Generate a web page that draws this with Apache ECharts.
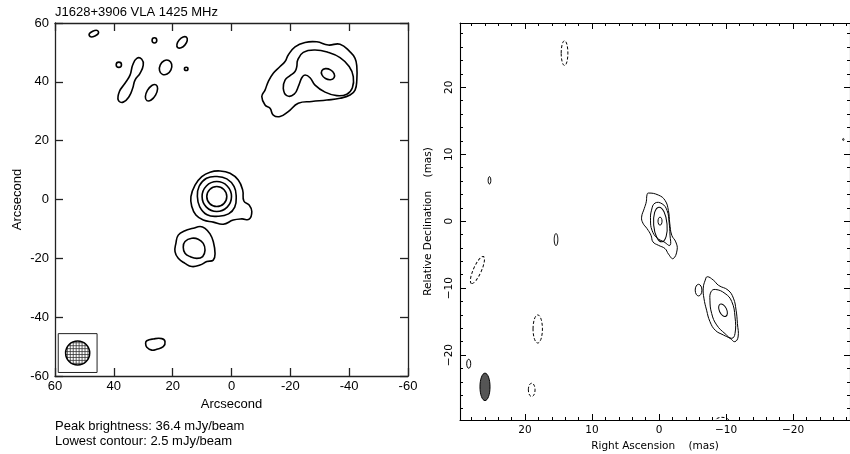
<!DOCTYPE html>
<html><head><meta charset="utf-8">
<script src="https://cdn.jsdelivr.net/npm/echarts@6/dist/echarts.min.js"></script>
<style>html,body{margin:0;padding:0;background:#fff}#c{width:850px;height:454px}</style>
</head><body><div id="c"></div>
<script>
// ---------- tick values / labels ----------
const leftTickValues = [-60, -40, -20, 0, 20, 40, 60];
const leftTickLabels = ['-60', '-40', '-20', '0', '20', '40', '60'];
const rightMajorTicks = [-20, -10, 0, 10, 20];
const rightTickLabels = ['\u221220', '\u221210', '0', '10', '20'];
const rightMinorTicks = [-28, -26, -24, -22, -20, -18, -16, -14, -12, -10, -8, -6, -4, -2, 0, 2, 4, 6, 8, 10, 12, 14, 16, 18, 20, 22, 24, 26, 28];

// ---------- left panel (VLA, arcsec) contours ----------
const leftCoreOuter = [[12.4,4.9],[10.1,7.8],[7.3,9.3],[3.9,9.7],[0.5,8.9],[-2.3,6.6],[-3.8,3.2],[-4.2,-0.5],[-6.0,-1.9],[-6.9,-4.1],[-6.0,-6.7],[-3.5,-6.6],[-0.6,-7.0],[2.8,-8.4],[6.2,-7.7],[9.6,-7.0],[12.1,-5.3],[13.5,-2.4],[13.8,1.0]];
const leftCoreRing3 = [[11.6,1.0],[11.0,4.5],[8.5,7.2],[5.0,7.8],[1.6,7.0],[-0.9,4.4],[-1.6,1.0],[-1.1,-2.6],[1.0,-4.9],[4.6,-5.7],[8.3,-5.2],[10.8,-2.5]];
const leftSouthOuter = [[18.1,-12.1],[15.8,-10.6],[13.0,-9.8],[10.7,-9.2],[9.0,-9.8],[7.3,-11.7],[6.2,-14.3],[5.6,-18.3],[6.2,-20.6],[8.4,-21.1],[10.7,-22.3],[13.5,-22.8],[15.8,-21.7],[18.1,-20.0],[19.2,-17.7],[18.9,-14.9]];
const leftSouthInner = [[15.8,-14.3],[13.5,-13.2],[11.3,-13.5],[9.6,-14.9],[9.0,-17.2],[9.8,-19.4],[11.8,-20.0],[14.1,-19.4],[15.8,-18.3],[16.4,-16.2]];
const leftNEOuter = [[-19.3,49.1],[-21.6,51.9],[-25.0,53.4],[-29.0,53.6],[-32.9,52.5],[-36.9,52.8],[-40.3,50.2],[-42.0,48.0],[-42.6,45.2],[-42.6,40.6],[-42.0,37.2],[-40.3,35.5],[-36.9,34.4],[-32.4,33.8],[-27.3,33.3],[-22.7,32.7],[-19.3,29.9],[-16.5,28.2],[-14.2,28.7],[-13.1,31.0],[-11.4,32.1],[-10.3,35.0],[-11.4,37.2],[-12.5,40.1],[-14.2,42.9],[-16.5,45.2],[-18.2,46.9]];
const leftNEInner = [[-22.5,47.4],[-24.4,50.0],[-28.4,50.8],[-32.9,50.0],[-36.9,48.2],[-40.0,45.2],[-41.4,41.8],[-41.1,38.0],[-39.2,35.8],[-35.8,35.3],[-31.8,36.5],[-28.4,38.9],[-26.7,41.4],[-25.0,42.3],[-23.9,41.4],[-22.9,38.9],[-21.3,35.8],[-18.8,35.3],[-17.6,37.8],[-18.2,40.6],[-19.9,42.1],[-21.6,43.5],[-22.2,45.2]];
const leftNorthPeanut = [[32.2,48.0],[30.5,47.7],[30.0,45.7],[31.1,42.9],[32.8,40.6],[33.6,37.8],[34.8,35.0],[36.8,33.1],[38.5,33.8],[38.1,36.7],[36.2,39.5],[34.5,42.3],[33.6,45.7]];
const leftSouthBlob = [[28.8,-48.0],[26.6,-47.4],[23.7,-47.3],[22.6,-48.3],[23.2,-50.0],[25.4,-50.9],[27.1,-51.2],[28.8,-50.2],[29.2,-48.9]];
const leftPolygons = [leftCoreOuter, leftCoreRing3, leftSouthOuter, leftSouthInner, leftNEOuter, leftNEInner, leftNorthPeanut, leftSouthBlob];
// ellipses: [centreX, centreY, semiAxisA, semiAxisB, tiltDeg]
const leftEllipses = [[5.0,1.0,5.0,5.1,0],[5.0,1.0,3.4,3.4,0],[46.8,56.4,1.7,0.9,25],[26.2,54.1,0.8,0.9,0],[16.8,53.4,2.3,1.3,50],[38.3,45.8,0.9,0.9,0],[22.4,44.9,2.6,2.0,65],[15.4,44.4,0.6,0.55,0],[27.2,36.3,3.1,1.6,60],[-32.8,42.6,2.4,1.7,-30]];
const leftBeam = [52.3, -52.2, 4.1];

// ---------- right panel (VLBI, mas) contours ----------
const rightCoreOuter = [[1.6,4.2],[0.1,3.9],[-0.9,3.1],[-1.4,1.6],[-1.6,-0.3],[-1.9,-2.1],[-2.5,-3.1],[-2.7,-4.3],[-2.1,-5.6],[-1.4,-4.9],[-0.9,-4.1],[0.1,-3.6],[0.9,-3.1],[1.2,-2.1],[1.8,-1.1],[2.4,-0.3],[2.6,0.6],[2.2,1.9],[1.9,2.9],[1.8,3.9]];
const rightCore2 = [[0.6,2.7],[-0.45,2.6],[-1.2,1.6],[-1.5,-0.15],[-1.64,-2.1],[-1.64,-3.6],[-0.75,-3.1],[0.3,-2.5],[1.05,-1.35],[1.27,0.15],[1.12,1.64]];
const rightKnotOuter = [[-7.2,-8.3],[-8.1,-8.8],[-8.9,-9.6],[-10.3,-10.3],[-11.1,-11.5],[-11.5,-13.3],[-11.7,-15.3],[-11.8,-17.3],[-11.3,-18.0],[-10.6,-17.5],[-9.6,-17.0],[-8.4,-16.3],[-7.6,-15.0],[-7.1,-13.3],[-6.7,-11.5],[-6.6,-10.0],[-6.9,-8.8]];
const rightKnot2 = [[-8.4,-10.2],[-9.85,-10.8],[-10.85,-12.0],[-11.34,-14.3],[-11.34,-16.8],[-10.85,-17.5],[-9.85,-16.8],[-8.6,-15.5],[-7.86,-13.8],[-7.6,-11.8],[-7.76,-10.55]];
const rightPolygons = [rightCoreOuter, rightCore2, rightKnotOuter, rightKnot2];
const rightSolidEllipses = [[-0.15,0.0,0.3,0.6,0],[-0.2,-0.5,1.0,2.6,5],[-9.55,-13.3,1.0,0.55,115],[-5.9,-10.3,0.5,0.87,0],[25.3,6.1,0.2,0.55,0],[15.37,-2.75,0.27,0.9,0],[28.4,-21.3,0.3,0.67,0],[-27.5,12.2,0.1,0.15,0]];
const rightDashedEllipses = [[14.1,25.1,0.5,1.85,0],[27.1,-7.3,2.2,0.6,66],[18.1,-16.1,0.7,2.1,0],[19.0,-25.2,0.5,1.0,0],[-9.4,-30.1,1.2,0.8,0]];
const rightBeam = [[25.97,-24.75,0.75,2.05,0]];

// ---------- rendering ----------
const chart = echarts.init(document.getElementById('c'), null, {renderer: 'canvas'});
const leftFont = 'Liberation Sans, Arial, Helvetica, sans-serif';
const rightFont = 'DejaVu Sans, sans-serif';

function polySeries(list, xi, yi, lw, dash) {
  return {
    type: 'custom', xAxisIndex: xi, yAxisIndex: yi, clip: true, silent: true,
    data: list.map(p => p[0]),
    renderItem: (params, api) => {
      const pts = list[params.dataIndex].map(p => api.coord(p));
      return {type: 'polygon', shape: {points: pts, smooth: 0.45},
        style: {fill: 'none', stroke: '#000', lineWidth: lw, lineDash: dash || null}};
    }
  };
}
function ellipseSeries(list, xi, yi, lw, dash, fill) {
  return {
    type: 'custom', xAxisIndex: xi, yAxisIndex: yi, clip: true, silent: true,
    data: list.map(e => [e[0], e[1]]),
    renderItem: (params, api) => {
      const e = list[params.dataIndex];
      const c = api.coord([e[0], e[1]]);
      const s = api.size([e[2], e[3]]);
      return {type: 'ellipse', x: c[0], y: c[1], rotation: e[4] * Math.PI / 180,
        shape: {cx: 0, cy: 0, rx: Math.abs(s[0]), ry: Math.abs(s[1])},
        style: {fill: fill || 'none', stroke: '#000', lineWidth: lw, lineDash: dash || null}};
    }
  };
}
const beamSeries = {
  type: 'custom', xAxisIndex: 0, yAxisIndex: 0, clip: true, silent: true,
  data: [[leftBeam[0], leftBeam[1]]],
  renderItem: (params, api) => {
    const c = api.coord([leftBeam[0], leftBeam[1]]);
    const unit = Math.abs(api.size([1, 0])[0]);
    const r = leftBeam[2] * unit;
    const half = 6.6 * unit;
    const kids = [
      {type: 'rect', shape: {x: c[0] - half, y: c[1] - half, width: 2 * half, height: 2 * half},
        style: {fill: '#fff', stroke: '#222', lineWidth: 1}},
      {type: 'circle', shape: {cx: c[0], cy: c[1], r: r}, style: {fill: '#fff', stroke: 'none'}}
    ];
    for (let k = -3.5; k <= 3.5; k += 1) {
      const d = k * unit;
      const h = Math.sqrt(Math.max(0, r * r - d * d));
      kids.push({type: 'line', shape: {x1: c[0] + d, y1: c[1] - h, x2: c[0] + d, y2: c[1] + h}, style: {stroke: '#333', lineWidth: 0.8}});
      kids.push({type: 'line', shape: {x1: c[0] - h, y1: c[1] + d, x2: c[0] + h, y2: c[1] + d}, style: {stroke: '#333', lineWidth: 0.8}});
    }
    kids.push({type: 'circle', shape: {cx: c[0], cy: c[1], r: r}, style: {fill: 'none', stroke: '#000', lineWidth: 1.5}});
    return {type: 'group', children: kids};
  }
};

const leftLine = {color: '#222', width: 1.3};
function leftAxis(dim, gi, pos, showLabel, name) {
  const a = {
    gridIndex: gi, type: 'value', position: pos, min: -60, max: 60, interval: 20,
    inverse: dim === 'x',
    axisLine: {show: true, onZero: false, lineStyle: leftLine},
    axisTick: {show: true, inside: true, length: 8, lineStyle: leftLine},
    axisLabel: {show: showLabel, margin: dim === 'x' ? 4 : 6, fontFamily: leftFont, fontSize: 13, color: '#000',
      formatter: v => leftTickLabels[leftTickValues.indexOf(v)]},
    splitLine: {show: false}
  };
  if (name) {
    a.name = name; a.nameLocation = 'middle'; a.nameGap = dim === 'x' ? 17 : 31;
    a.nameTextStyle = {fontFamily: leftFont, fontSize: 13, color: '#000'};
  }
  return a;
}
const rightLine = {color: '#000', width: 1.1};
function rightAxis(dim, gi, pos, ticks, len, showLine, showLabel, name) {
  const a = {
    gridIndex: gi, type: 'value', position: pos,
    min: dim === 'x' ? -28.5 : -29.7, max: dim === 'x' ? 29.7 : 29.6,
    inverse: dim === 'x',
    axisLine: {show: showLine, onZero: false, lineStyle: rightLine},
    axisTick: {show: true, inside: true, length: len, customValues: ticks, lineStyle: {color: '#000', width: 1}},
    axisLabel: {show: showLabel, customValues: rightMajorTicks, margin: 5, rotate: dim === 'y' ? 90 : 0,
      fontFamily: rightFont, fontSize: 10.5, color: '#000',
      formatter: v => rightTickLabels[rightMajorTicks.indexOf(v)]},
    splitLine: {show: false}
  };
  if (name) {
    a.name = name; a.nameLocation = 'middle'; a.nameGap = dim === 'x' ? 18 : 26;
    a.nameTextStyle = {fontFamily: rightFont, fontSize: 10.5, color: '#000'};
  }
  return a;
}

chart.setOption({
  backgroundColor: '#fff',
  animation: false,
  grid: [
    {left: 55, top: 23, width: 353, height: 353, outerBoundsMode: 'none', containLabel: false},
    {left: 460, top: 23, width: 390, height: 397, outerBoundsMode: 'none', containLabel: false},
    {left: 460, top: 23, width: 390, height: 397, outerBoundsMode: 'none', containLabel: false}
  ],
  xAxis: [
    leftAxis('x', 0, 'bottom', true, 'Arcsecond'),
    leftAxis('x', 0, 'top', false),
    rightAxis('x', 1, 'bottom', rightMajorTicks, 6, true, true, 'Right Ascension    (mas)'),
    rightAxis('x', 1, 'top', rightMajorTicks, 6, true, false),
    rightAxis('x', 2, 'bottom', rightMinorTicks, 3, false, false),
    rightAxis('x', 2, 'top', rightMinorTicks, 3, false, false)
  ],
  yAxis: [
    leftAxis('y', 0, 'left', true, 'Arcsecond'),
    leftAxis('y', 0, 'right', false),
    rightAxis('y', 1, 'left', rightMajorTicks, 6, true, true, 'Relative Declination    (mas)'),
    rightAxis('y', 1, 'right', rightMajorTicks, 6, true, false),
    rightAxis('y', 2, 'left', rightMinorTicks, 3, false, false),
    rightAxis('y', 2, 'right', rightMinorTicks, 3, false, false)
  ],
  graphic: [
    {type: 'text', left: 55, top: 6, style: {text: 'J1628+3906 VLA 1425 MHz', font: '13px ' + leftFont, fill: '#000'}},
    {type: 'text', left: 55, top: 420, style: {text: 'Peak brightness: 36.4 mJy/beam', font: '13px ' + leftFont, fill: '#000'}},
    {type: 'text', left: 55, top: 435, style: {text: 'Lowest contour: 2.5 mJy/beam', font: '13px ' + leftFont, fill: '#000'}}
  ],
  series: [
    polySeries(leftPolygons, 0, 0, 1.6),
    ellipseSeries(leftEllipses, 0, 0, 1.6),
    beamSeries,
    polySeries(rightPolygons, 2, 2, 1),
    ellipseSeries(rightSolidEllipses, 2, 2, 1),
    ellipseSeries(rightDashedEllipses, 2, 2, 1, [3, 2]),
    ellipseSeries(rightBeam, 2, 2, 1, null, '#555')
  ]
});
</script>
</body></html>
